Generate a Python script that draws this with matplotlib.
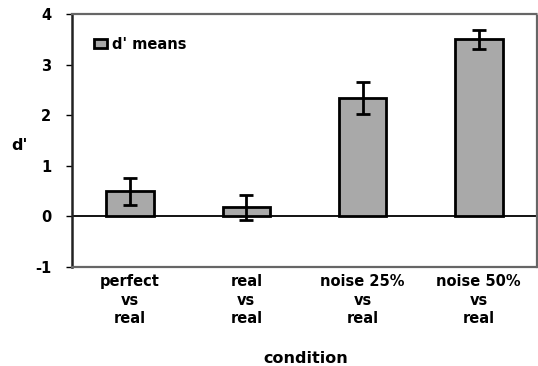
import matplotlib
matplotlib.use("Agg")
import matplotlib.pyplot as plt
from matplotlib.patches import Patch

categories = ["perfect\nvs\nreal", "real\nvs\nreal", "noise 25%\nvs\nreal", "noise 50%\nvs\nreal"]
means = [0.50, 0.18, 2.34, 3.51]
errors = [0.27, 0.25, 0.32, 0.19]
yticks = [-1, 0, 1, 2, 3, 4]

plt.rcParams['font.family'] = ['DejaVu Sans']
plt.rcParams['font.weight'] = 'bold'

fig = plt.figure(figsize=(5.38, 3.66), dpi=100)
ax = fig.add_axes([0.1338, 0.2705, 0.8642, 0.6899])

x = range(len(categories))
ax.bar(x, means, width=0.41, color='#a9a9a9', edgecolor='black', linewidth=2,
       yerr=errors, error_kw=dict(ecolor='black', elinewidth=2, capsize=5, capthick=2),
       zorder=3)
ax.axhline(0, color='black', linewidth=1.3, zorder=2)

ax.set_xlim(-0.5, 3.5)
ax.set_ylim(-1, 4)
ax.set_yticks(yticks)
ax.set_yticklabels([str(t) for t in yticks], fontsize=10.5, fontweight='bold')
ax.set_xticks(list(x))
ax.set_xticklabels(categories, fontsize=10.5, fontweight='bold', linespacing=1.3)
ax.tick_params(axis='x', length=0, pad=5)
ax.tick_params(axis='y', length=4, width=1, direction='out', pad=11)

ax.spines['left'].set_linewidth(1.8)
ax.spines['left'].set_color('#222222')
for s in ['top', 'right', 'bottom']:
    ax.spines[s].set_linestyle((0, (1, 1)))
    ax.spines[s].set_linewidth(1.6)
    ax.spines[s].set_color('#666666')

fig.text(19 / 538, 1 - 145 / 366, "d'", fontsize=11.5, fontweight='bold', ha='center', va='center')
fig.text(306 / 538, 1 - 363 / 366, "condition", fontsize=11.5, fontweight='bold',
         ha='center', va='baseline')

handle = Patch(facecolor='#a9a9a9', edgecolor='black', linewidth=2)
ax.legend([handle], ["d' means"], loc='upper left', frameon=False, fontsize=10.5,
          handlelength=0.9, handleheight=0.6, handletextpad=0.3,
          bbox_to_anchor=(0.035, 0.935), borderaxespad=0)

fig.savefig("out.png", dpi=100)
